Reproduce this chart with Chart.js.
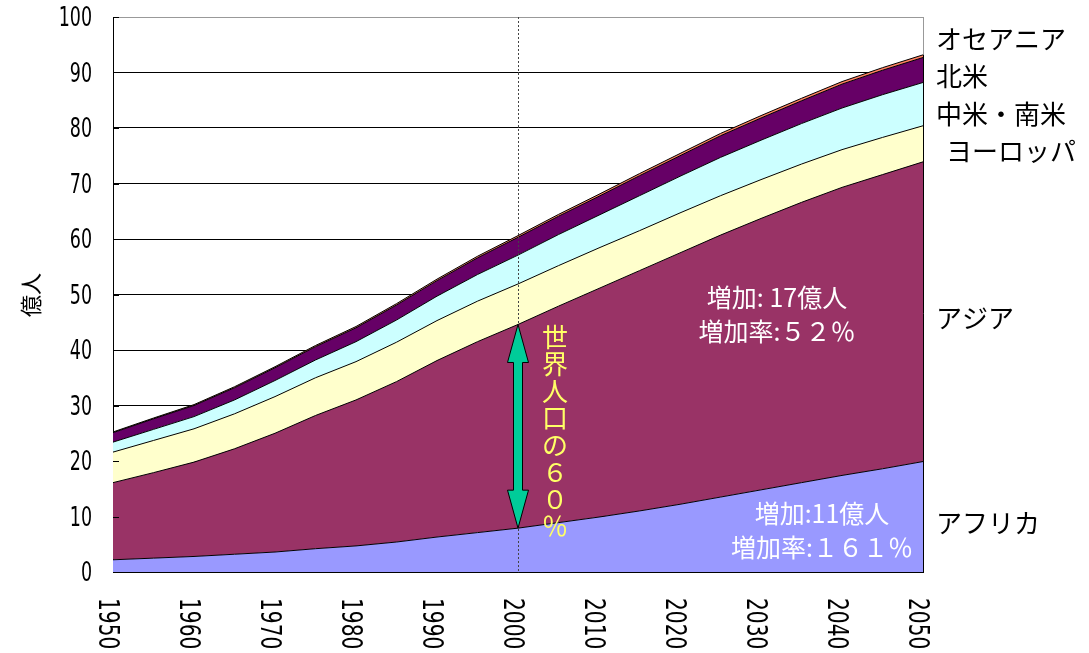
<!DOCTYPE html>
<html>
<head>
<meta charset="utf-8">
<script src="https://cdn.jsdelivr.net/npm/chart.js@4/dist/chart.umd.min.js"></script>
<style>
  html, body { margin: 0; padding: 0; background: #fff; }
  canvas { display: block; }
</style>
</head>
<body>
<canvas id="c" width="1089" height="653"></canvas>
<script>
// 地域別人口の推移と予測（単位：億人）
const years = [1950,1955,1960,1965,1970,1975,1980,1985,1990,1995,2000,
               2005,2010,2015,2020,2025,2030,2035,2040,2045,2050];
const africa   = [2.2,2.5,2.8,3.2,3.6,4.2,4.7,5.4,6.3,7.1,7.9,8.9,9.9,11.0,12.2,13.5,14.8,16.1,17.4,18.6,19.9];
const asia     = [13.9,15.4,17.0,19.0,21.4,24.0,26.3,28.9,31.8,34.4,36.7,39.0,41.2,43.3,45.3,47.2,48.9,50.5,51.9,53.0,54.0];
const europe   = [5.5,5.8,6.0,6.3,6.6,6.8,6.9,7.1,7.2,7.3,7.3,7.3,7.3,7.2,7.2,7.1,7.0,6.9,6.8,6.7,6.5];
const latam    = [1.8,2.0,2.2,2.5,2.9,3.2,3.6,4.0,4.4,4.8,5.2,5.6,5.9,6.3,6.6,6.9,7.1,7.3,7.5,7.7,7.8];
const namerica = [1.7,1.9,2.0,2.2,2.3,2.4,2.5,2.7,2.8,3.0,3.2,3.3,3.4,3.6,3.7,3.9,4.0,4.1,4.3,4.4,4.5];
const oceania  = [0.13,0.14,0.16,0.18,0.19,0.21,0.23,0.25,0.27,0.29,0.31,0.33,0.36,0.38,0.40,0.42,0.43,0.45,0.46,0.47,0.48];

const regionNames = ['アフリカ','アジア','ヨーロッパ','中米・南米','北米','オセアニア'];
const yTicks = [0,10,20,30,40,50,60,70,80,90,100];
const markYear = 2000;

const jpFont = '"Noto Sans CJK JP", "Noto Sans", sans-serif';
const numFont = '"DejaVu Sans Condensed", "DejaVu Sans", sans-serif';

function layer(label, values, color, fill) {
  return {
    label, data: values, backgroundColor: color, borderColor: '#000',
    borderWidth: 1, pointRadius: 0, tension: 0, fill
  };
}

// 細身の数字を描く（横方向だけ縮める）
function narrowText(ctx, text, x, y, sx, angle) {
  ctx.save();
  ctx.translate(x, y);
  if (angle) ctx.rotate(angle);
  ctx.scale(sx, 1);
  ctx.fillText(text, 0, 0);
  ctx.restore();
}

// 注記類（縦の点線・両矢印・文字）
const decor = {
  id: 'decor',
  afterDatasetsDraw(chart) {
    const { ctx, chartArea: a, scales: { x, y } } = chart;
    const idx = years.indexOf(markYear);
    const px = x.getPixelForValue(idx);

    ctx.save();
    // 内向きの目盛り
    ctx.strokeStyle = '#000';
    ctx.lineWidth = 1;
    yTicks.forEach(v => {
      const py = Math.round(y.getPixelForValue(v)) + 0.5;
      ctx.beginPath(); ctx.moveTo(a.left, py); ctx.lineTo(a.left + 6, py); ctx.stroke();
    });

    // 右枠
    const last = years.length - 1;
    const total = africa[last] + asia[last] + europe[last] + latam[last] + namerica[last] + oceania[last];
    ctx.strokeStyle = '#999';
    ctx.beginPath(); ctx.moveTo(a.right + 0.5, a.top); ctx.lineTo(a.right + 0.5, a.bottom); ctx.stroke();
    ctx.strokeStyle = '#000';
    ctx.beginPath(); ctx.moveTo(a.right + 0.5, y.getPixelForValue(total)); ctx.lineTo(a.right + 0.5, a.bottom); ctx.stroke();

    // 2000年の点線
    ctx.strokeStyle = '#444';
    ctx.setLineDash([2, 2]);
    ctx.beginPath(); ctx.moveTo(Math.round(px) + 0.5, a.top); ctx.lineTo(Math.round(px) + 0.5, a.bottom); ctx.stroke();
    ctx.setLineDash([]);

    // アジアの幅を示す両矢印
    const yLow = y.getPixelForValue(africa[idx]);
    const yHigh = y.getPixelForValue(africa[idx] + asia[idx]);
    const hw = 10.5, sw = 4.5, hl = 38;
    ctx.beginPath();
    ctx.moveTo(px, yHigh);
    ctx.lineTo(px + hw, yHigh + hl);
    ctx.lineTo(px + sw, yHigh + hl);
    ctx.lineTo(px + sw, yLow - hl);
    ctx.lineTo(px + hw, yLow - hl);
    ctx.lineTo(px, yLow);
    ctx.lineTo(px - hw, yLow - hl);
    ctx.lineTo(px - sw, yLow - hl);
    ctx.lineTo(px - sw, yHigh + hl);
    ctx.lineTo(px - hw, yHigh + hl);
    ctx.closePath();
    ctx.fillStyle = '#00CC99';
    ctx.fill();
    ctx.strokeStyle = '#000';
    ctx.lineWidth = 1;
    ctx.stroke();

    // 縦書きの注記
    const vText = ['世','界','人','口','の','６','０','％'];
    ctx.fillStyle = '#FFFF66';
    ctx.font = '26px ' + jpFont;
    ctx.textAlign = 'center';
    ctx.textBaseline = 'middle';
    vText.forEach((ch, i) => ctx.fillText(ch, px + 37, yHigh + 13 + i * 27));

    // 増加の注記
    ctx.fillStyle = '#fff';
    ctx.font = '25px ' + jpFont;
    ctx.fillText('増加: 17億人', 777, 297);
    ctx.fillText('増加率:５２％', 777, 331);
    ctx.fillText('増加:11億人', 822, 513);
    ctx.fillText('増加率:１６１％', 822, 547);
    ctx.restore();
  },
  afterDraw(chart) {
    const { ctx, chartArea: a, scales: { x, y } } = chart;
    ctx.save();
    ctx.fillStyle = '#000';
    ctx.textBaseline = 'middle';

    // 縦軸の目盛りラベル
    ctx.font = '27px ' + numFont;
    ctx.textAlign = 'right';
    yTicks.forEach(v => narrowText(ctx, String(v), a.left - 21, y.getPixelForValue(v) + 2, 0.72, 0));

    // 横軸の年（縦書き）
    ctx.font = '28px ' + numFont;
    ctx.textAlign = 'left';
    years.forEach((yr, i) => {
      if (yr % 10 !== 0) return;
      narrowText(ctx, String(yr), x.getPixelForValue(i) - 7, 598, 0.8, Math.PI / 2);
    });

    // 縦軸の単位
    ctx.font = '22px ' + jpFont;
    ctx.textAlign = 'center';
    ctx.save();
    ctx.translate(31, 295);
    ctx.rotate(-Math.PI / 2);
    ctx.fillText('億人', 0, 0);
    ctx.restore();

    // 地域名
    ctx.font = '26px ' + jpFont;
    ctx.textAlign = 'left';
    ctx.fillText(regionNames[5], 936, 39);
    ctx.fillText(regionNames[4], 936, 76);
    ctx.fillText(regionNames[3], 936, 114);
    ctx.fillText(regionNames[2], 946, 151);
    ctx.fillText(regionNames[1], 936, 318);
    ctx.fillText(regionNames[0], 936, 523);
    ctx.restore();
  }
};

new Chart(document.getElementById('c'), {
  type: 'line',
  data: {
    labels: years.map(String),
    datasets: [
      layer(regionNames[0], africa,   '#9999FF', 'origin'),
      layer(regionNames[1], asia,     '#993366', '-1'),
      layer(regionNames[2], europe,   '#FFFFCC', '-1'),
      layer(regionNames[3], latam,    '#CCFFFF', '-1'),
      layer(regionNames[4], namerica, '#660066', '-1'),
      layer(regionNames[5], oceania,  '#FF8060', '-1')
    ]
  },
  options: {
    responsive: false,
    animation: false,
    layout: { padding: { top: 17, right: 166, left: 0, bottom: 0 } },
    plugins: { legend: { display: false }, tooltip: { enabled: false } },
    scales: {
      x: {
        type: 'category',
        offset: false,
        grid: { display: false },
        border: { display: true, color: '#000', width: 1 },
        ticks: { display: false },
        afterFit: s => { s.height = 81; s.paddingLeft = 0; s.paddingRight = 0; }
      },
      y: {
        stacked: true,
        min: 0, max: 100,
        afterBuildTicks: s => { s.ticks = yTicks.map(v => ({ value: v })); },
        ticks: { display: false },
        grid: {
          drawTicks: false,
          color: c => (c.tick && c.tick.value === 100) ? '#999' : '#000',
          lineWidth: 1
        },
        border: { display: true, color: '#000', width: 1 },
        afterFit: s => { s.width = 113; s.paddingTop = 0; s.paddingBottom = 0; }
      }
    }
  },
  plugins: [decor]
});
</script>
</body>
</html>
